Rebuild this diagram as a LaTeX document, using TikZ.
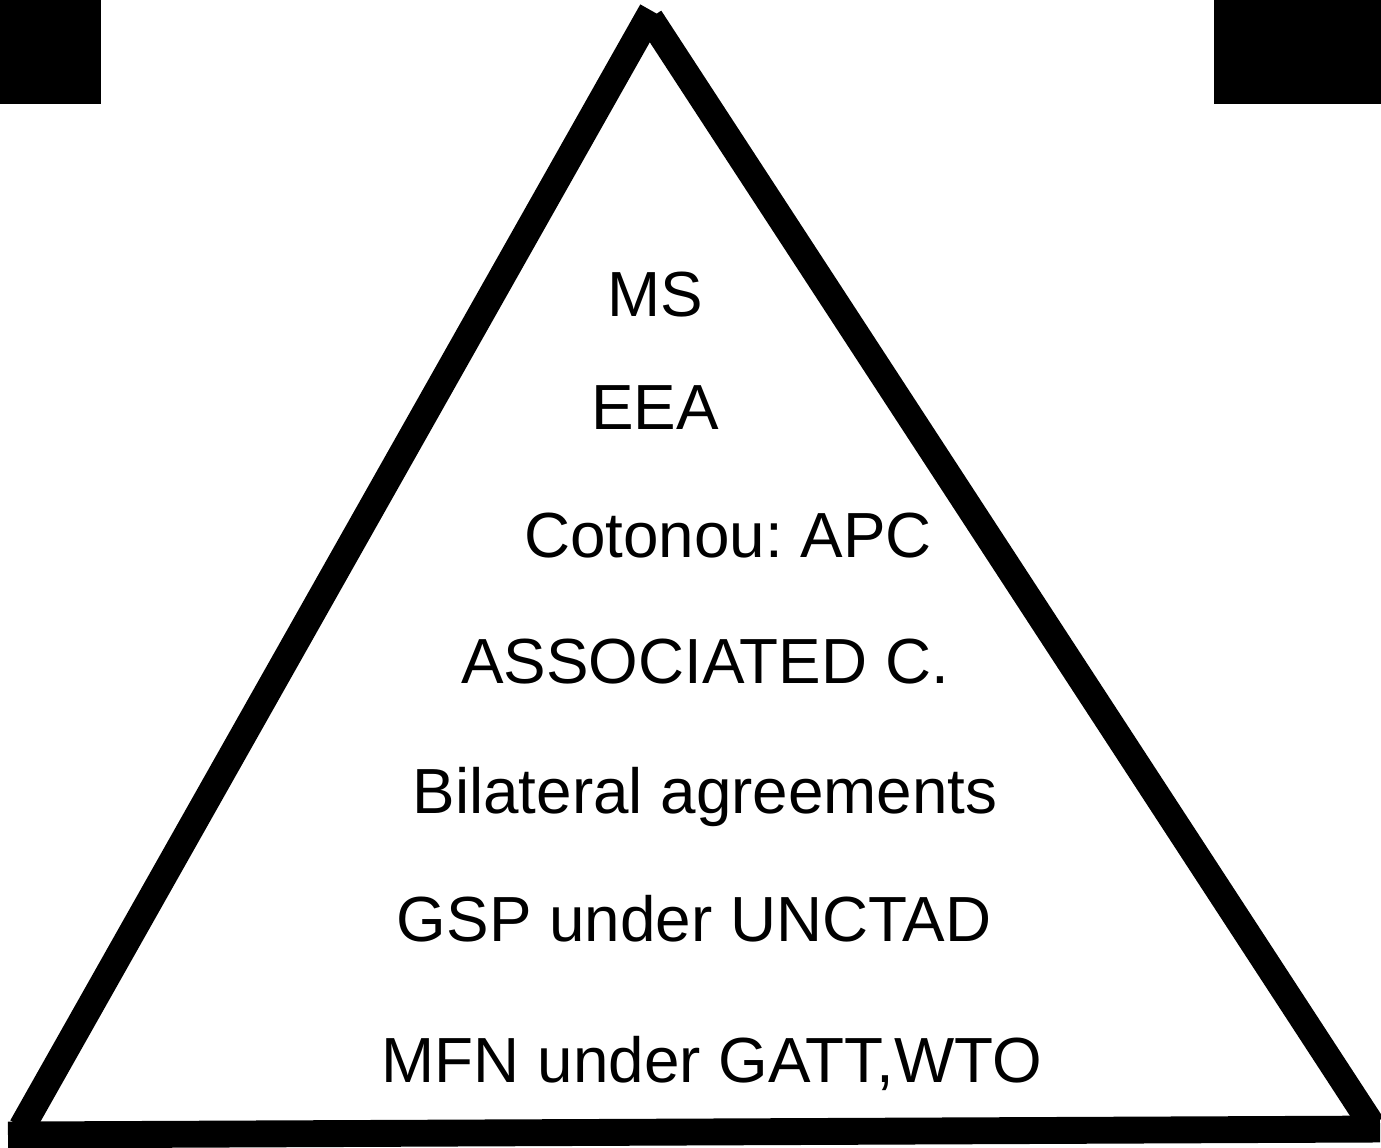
\documentclass[tikz,border=0pt]{standalone}
\usepackage{fontspec}
\setmainfont{Liberation Sans}
\usepackage{tikz}
\frenchspacing

\begin{document}
\begin{tikzpicture}[x=0.02cm,y=-0.02cm,
    side/.style={-,line width=15.3pt,line cap=butt},
    level/.style={anchor=base,inner sep=0pt,font=\fontsize{36.3}{40}\selectfont}]
    \useasboundingbox(0,0) rectangle (1381,1147);

    \fill[black](0,0) rectangle (101,104);
    \fill[black](1214,0) rectangle (1381,104);

    \draw[side](652,11)--(22,1127);
    \draw[side](650,18)--(1372,1125);
    \draw[side](8,1135)--(1380,1129);

    \node[level] (ms) at (655,316) {MS};
    \node[level] (eea) at (655,429) {EEA};
    \node[level] (apc) at (728,557) {Cotonou: APC};
    \node[level] (assoc) at (705,683) {ASSOCIATED C.};
    \node[level] (bilat) at (705,813) {Bilateral agreements};
    \node[level] (gsp) at (694,941) {GSP under UNCTAD};
    \node[level] (mfn) at (712,1082) {MFN under GATT,WTO};
\end{tikzpicture}
\end{document}
